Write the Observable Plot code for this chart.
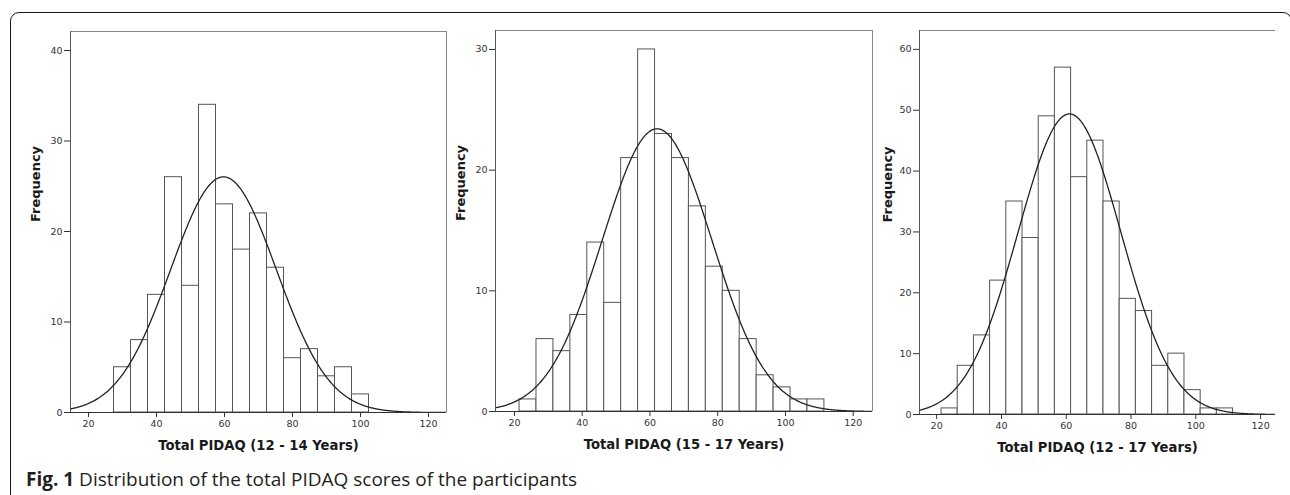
<!DOCTYPE html>
<html><head><meta charset="utf-8">
<script src="https://cdn.jsdelivr.net/npm/d3@7"></script>
<script src="https://cdn.jsdelivr.net/npm/@observablehq/plot@0.6"></script>
<style>
html,body{margin:0;padding:0;background:#fff;width:1290px;height:495px;overflow:hidden;}
#wrap{position:relative;width:1290px;height:495px;overflow:hidden;}
.box{position:absolute;left:10px;top:12px;width:1282px;height:520px;border:1.3px solid #1a1a1a;border-radius:9px;box-sizing:border-box;}
.panel{position:absolute;top:0;}
.caption{position:absolute;left:26px;top:469.8px;font-family:"Open Sans",sans-serif;font-size:19px;line-height:19px;color:#231f20;white-space:nowrap;}
.caption b{font-weight:700;}
</style></head>
<body>
<div id="wrap">
  <div class="box"></div>
  <div class="panel" id="p1" style="left:0px"></div>
  <div class="panel" id="p2" style="left:425px"></div>
  <div class="panel" id="p3" style="left:850px"></div>
  <div class="caption"><b>Fig. 1</b> Distribution of the total PIDAQ scores of the participants</div>
</div>
<script>
// ---- data ----
const binWidth = 5;
const xTicks = [20, 40, 60, 80, 100, 120];

// Panel 1: 12 - 14 years (bin centres, counts)
const centers1 = [30, 35, 40, 45, 50, 55, 60, 65, 70, 75, 80, 85, 90, 95, 100];
const counts1  = [5, 8, 13, 26, 14, 34, 23, 18, 22, 16, 6, 7, 4, 5, 2];
const yTicks1  = [0, 10, 20, 30, 40];
const label1   = "Total PIDAQ (12 - 14 Years)";
const mean1 = 59.7, sd1 = 15.55;

// Panel 2: 15 - 17 years
const centers2 = [24, 29, 34, 39, 44, 49, 54, 59, 64, 69, 74, 79, 84, 89, 94, 99, 104, 109];
const counts2  = [1, 6, 5, 8, 14, 9, 21, 30, 23, 21, 17, 12, 10, 6, 3, 2, 1, 1];
const yTicks2  = [0, 10, 20, 30];
const label2   = "Total PIDAQ (15 - 17 Years)";
const mean2 = 62.1, sd2 = 16.18;

// Panel 3: 12 - 17 years
const centers3 = [24, 29, 34, 39, 44, 49, 54, 59, 64, 69, 74, 79, 84, 89, 94, 99, 104, 109];
const counts3  = [1, 8, 13, 22, 35, 29, 49, 57, 39, 45, 35, 19, 17, 8, 10, 4, 1, 1];
const yTicks3  = [0, 10, 20, 30, 40, 50, 60];
const label3   = "Total PIDAQ (12 - 17 Years)";
const mean3 = 61.0, sd3 = 15.87;

function panel(cfg) {
  const bars = cfg.centers.map((c, i) => ({x1: c - binWidth / 2, x2: c + binWidth / 2, count: cfg.counts[i]}));
  const n = d3.sum(cfg.counts);
  const [a, b] = cfg.xDomain;
  const curve = d3.range(a, b + 0.001, 0.25).map(x => ({
    x, y: n * binWidth / (cfg.sd * Math.sqrt(2 * Math.PI)) * Math.exp(-0.5 * ((x - cfg.mean) / cfg.sd) ** 2)
  }));
  const marks = [
    Plot.rect(bars, {x1: "x1", x2: "x2", y1: 0, y2: "count", fill: "white", stroke: "#555", strokeWidth: 1}),
    Plot.line(curve, {x: "x", y: "y", stroke: "#222", strokeWidth: 1.3, clip: true}),
    Plot.ruleY([cfg.yDomain[1]], {stroke: "#888", strokeWidth: 1}),
  ];
  if (cfg.rightBorder) marks.push(Plot.ruleX([b], {stroke: "#888", strokeWidth: 1}));
  marks.push(
    Plot.ruleX([a], {stroke: "#555", strokeWidth: 1}),
    Plot.ruleY([0], {stroke: "#333", strokeWidth: 1.2}),
    Plot.axisY(cfg.yTicks, {tickSize: 6, tickPadding: 2, label: null, stroke: "#333", fill: "#333", tickFormat: d => d}),
    Plot.axisX(xTicks, {tickSize: 5, tickPadding: 3, label: null, stroke: "#333", fill: "#333", tickFormat: d => d}),
    Plot.text(["Frequency"], {frameAnchor: "left", rotate: -90, dx: cfg.ylabelDx, fontWeight: "bold", fontSize: 13, fontFamily: "DejaVu Sans", fill: "#1a1a1a"}),
    Plot.text([cfg.label], {frameAnchor: "bottom", dy: 37, fontWeight: "bold", fontSize: 13.2, fontFamily: "DejaVu Sans", fill: "#1a1a1a"})
  );
  return Plot.plot({
    width: cfg.width, height: 460,
    marginLeft: cfg.ml, marginRight: cfg.mr, marginTop: cfg.mt, marginBottom: cfg.mb,
    x: {domain: cfg.xDomain},
    y: {domain: cfg.yDomain},
    style: {fontFamily: "DejaVu Sans", fontSize: "9.5px", background: "transparent", overflow: "visible"},
    marks
  });
}

document.getElementById("p1").appendChild(panel({
  centers: centers1, counts: counts1, mean: mean1, sd: sd1, yTicks: yTicks1, label: label1,
  xDomain: [14.7, 125.3], yDomain: [0, 42.1], width: 450, ml: 70, mr: 4, mt: 31, mb: 48, rightBorder: true, ylabelDx: -35
}));
document.getElementById("p2").appendChild(panel({
  centers: centers2, counts: counts2, mean: mean2, sd: sd2, yTicks: yTicks2, label: label2,
  xDomain: [14.4, 125.7], yDomain: [0, 31.57], width: 450, ml: 70, mr: 3, mt: 30, mb: 49, rightBorder: true, ylabelDx: -35
}));
document.getElementById("p3").appendChild(panel({
  centers: centers3, counts: counts3, mean: mean3, sd: sd3, yTicks: yTicks3, label: label3,
  xDomain: [14.7, 124.6], yDomain: [0, 63.1], width: 440, ml: 69, mr: 15, mt: 30, mb: 46, rightBorder: false, ylabelDx: -32
}));
</script>
</body></html>
